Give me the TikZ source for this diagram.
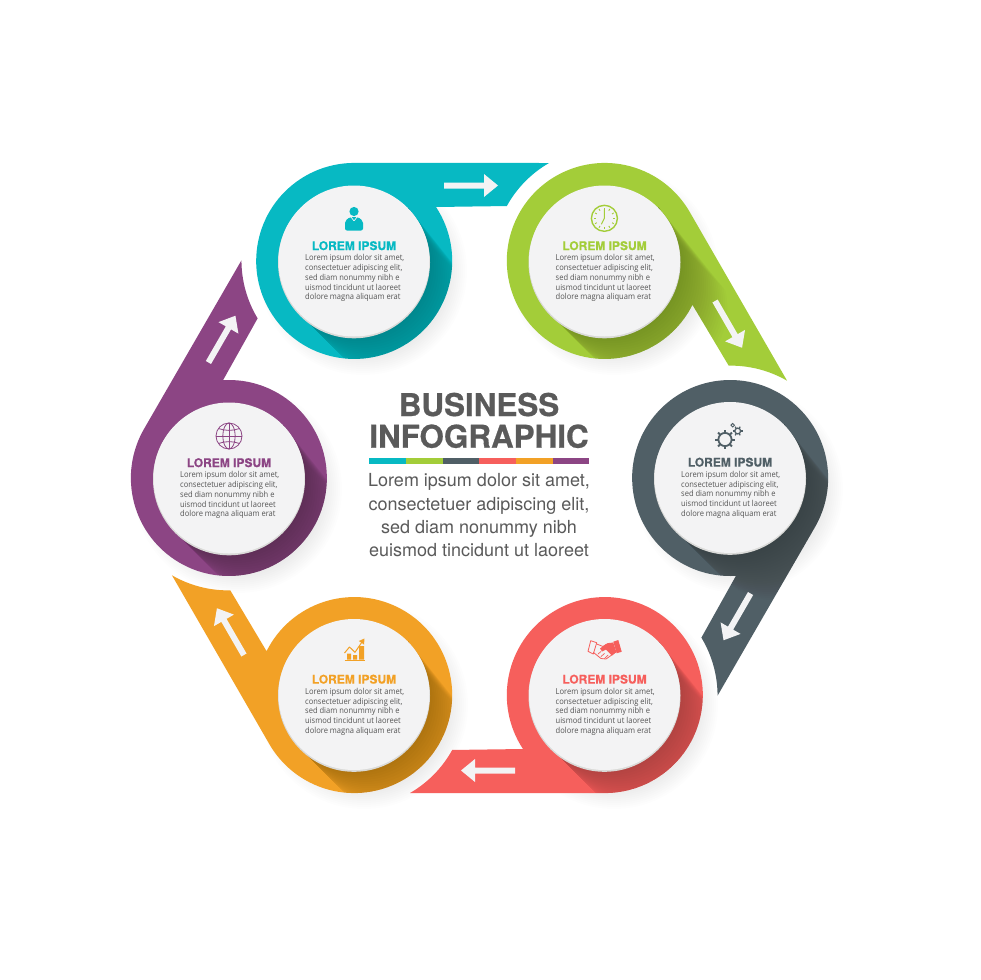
\documentclass[tikz,border=0pt]{standalone}
\usepackage{fontspec}
\setmainfont{Liberation Sans}
\newfontfamily\heros[BoldFeatures={FakeBold=0.6}]{TeX Gyre Heros}
\newfontfamily\bodyf[FakeStretch=0.92]{Open Sans}
\definecolor{cteal}{HTML}{07B9C3}
\definecolor{cgreen}{HTML}{A3CD39}
\definecolor{cgray}{HTML}{505F66}
\definecolor{cred}{HTML}{F65F5C}
\definecolor{corange}{HTML}{F2A126}
\definecolor{cpurple}{HTML}{8C4584}
\definecolor{discc}{HTML}{F3F3F4}
\definecolor{rimc}{HTML}{DADAD8}
\definecolor{bodyc}{HTML}{555555}
\definecolor{headc}{HTML}{5A5A5A}
\tikzset{
  discnode/.style={circle,fill=discc,inner sep=0pt,minimum size=151pt},
  cardtitle/.style={font=\heros\bfseries\fontsize{12}{12}\selectfont,inner sep=0pt,anchor=center},
  cardbody/.style={font=\bodyf\fontsize{8.2}{9.8}\selectfont,text=bodyc,inner sep=0pt,anchor=north west,align=left},
  headline/.style={font=\heros\bfseries\fontsize{31.4}{31.4}\selectfont,text=headc,inner sep=0pt,anchor=base},
  paraline/.style={font=\heros\fontsize{18}{18}\selectfont,text=headc,inner sep=0pt,anchor=base},
  arrowc/.style={fill=discc}
}
\newcommand\myblade{(-43.5,271) arc (33.4:-270:98) -- (69.5,315) arc (120:151.1:112.4) -- cycle}
\newcommand\mycard[4]{% cx cy colour name
  \fill[rimc] (#1,#2+0.8) circle[radius=76];
  \node[discnode] (d#4) at (#1,#2-0.5) {};
  \node[cardtitle,text=#3] (t#4) at (#1,#2-15.8) {LOREM IPSUM};
  \node[cardbody] (b#4) at (#1-49,#2-7.2) {Lorem ipsum dolor sit amet,\\consectetuer adipiscing elit,\\sed diam nonummy nibh e\\uismod tincidunt ut laoreet\\dolore magna aliquam erat};
}
\begin{document}
\begin{tikzpicture}[x=1pt,y=-1pt]
\path[use as bounding box,fill=white] (0,0) rectangle (980,980);
% soft shadows on the paper
\foreach \cx/\cy in {354/261,605/261,730/479,605/695,355/695,229/479}{
  \foreach \r in {84,86,...,104}{
    \fill[black,opacity=0.0065] (\cx+9,\cy+10) circle[radius=\r];
  }
}
% blades
\foreach \rot/\col in {0/cteal,-60/cgreen,-120/cgray,-180/cred,-240/corange,-300/cpurple}{
  \begin{scope}[shift={(479.5,478)},y=1pt,rotate=\rot]
    \fill[\col] \myblade;
    \begin{scope}
      \clip \myblade;
      \pgfmathsetmacro\sr{-45-\rot}
      \begin{scope}[shift={(-125.5,217)},rotate=\sr]
        \foreach \L in {3,6,...,66}{
          \fill[black,opacity=0.0115] (0,-76) -- (\L,-76) arc (-90:58:76) -- (0,76) -- cycle;
        }
      \end{scope}
    \end{scope}
    \fill[arrowc] (-35.5,289.5) -- (4.5,289.5) -- (4.5,281) -- (18.5,292.5) -- (4.5,304) -- (4.5,295.5) -- (-35.5,295.5) -- cycle;
  \end{scope}
}
% discs and texts
\mycard{354}{261.5}{cteal}{a}
\mycard{604.5}{261.5}{cgreen}{b}
\mycard{730}{478}{cgray}{c}
\mycard{604.5}{695}{cred}{d}
\mycard{354}{695}{corange}{e}
\mycard{229}{478.5}{cpurple}{f}
% person icon
\fill[cteal] (354,211.5) circle[radius=4.6];
\fill[cteal,rounded corners=2pt] (345,230.5) -- (345,221) -- (350,217) -- (358,217) -- (363,221) -- (363,230.5) -- cycle;
\draw[discc,line width=0.7pt] (351,217) -- (354,221) -- (357,217);
\draw[cteal,line width=1.1pt] (354,221) -- (354,228);
% clock icon
\draw[cgreen,line width=1.4pt] (604.4,218.3) circle[radius=13];
\foreach \a in {0,30,...,330}{
  \draw[cgreen,line width=0.9pt] (604.4,218.3) ++(\a:8.8) -- ++(\a:2);
}
\draw[cgreen,line width=1pt,line cap=round] (604.4,209.5) -- (604.4,218.3) -- (601.5,224);
% gears icon
\draw[cgray,line width=1.8pt] (725,439.5) circle[radius=6.6];
\foreach \a in {0,45,...,315}{
  \draw[cgray,line width=2pt] (725,439.5) ++(\a:6.8) -- ++(\a:3);
}
\draw[cgray,line width=1.3pt] (737.7,431) circle[radius=2.9];
\foreach \a in {0,60,...,300}{
  \draw[cgray,line width=1.2pt] (737.7,431) ++(\a:3) -- ++(\a:2);
}
\draw[cgray,line width=0.9pt] (732.7,425.2) circle[radius=1.8];
% handshake icon
\draw[cred,line width=0.8pt,line join=round] (590.7,640.7) -- (596.7,642.7) -- (593.3,654) -- (588,651.3) -- cycle;
\fill[cred] (613.3,641.7) -- (618.3,640) -- (621.7,651.7) -- (616.7,653.3) -- cycle;
\draw[cred,line width=0.8pt,line cap=round,line join=round] (596.7,644) -- (603,646.5) -- (608,643.5) -- (613,643);
\draw[cred,line width=0.8pt,line cap=round,line join=round] (593.5,652.5) -- (601,658.5) -- (606,659) -- (616,652);
\fill[cred] (606,644) -- (613.3,642.7) -- (616.3,651.8) -- (612,655.5) -- (606,649.5) -- (602,651.5) -- (600,648.5) -- cycle;
\draw[cred,line width=0.7pt,line cap=round] (598,654) -- (601,651.5) (601,656.5) -- (604.5,653.5) (604.5,658.5) -- (608,655);
% chart icon
\draw[corange,line width=1.2pt] (344.5,660.8) -- (365,660.8);
\fill[corange] (347,653.5) rectangle (351,659.5) (353,655) rectangle (357,659.5) (359,646) rectangle (364,659.5);
\draw[corange,line width=1pt,line join=round] (344.5,653) -- (349.5,647) -- (355,652.3) -- (362.3,641.5);
\fill[corange] (364.5,638.5) -- (364,644.5) -- (358.8,641) -- cycle;
% globe icon
\begin{scope}[cpurple,line width=0.8pt]
  \draw (229,436) circle[radius=13];
  \draw (229,436) ellipse[x radius=6.2,y radius=13];
  \draw (229,423) -- (229,449) (216,436) -- (242,436);
  \draw (218.5,428.5) .. controls (225,431) and (233,431) .. (239.5,428.5);
  \draw (218.5,443.5) .. controls (225,441) and (233,441) .. (239.5,443.5);
\end{scope}
% centre heading
\node[headline] (h1) at (479,416) {BUSINESS};
\node[headline] (h2) at (479,447.7) {INFOGRAPHIC};
\foreach \i/\c in {0/cteal,1/cgreen,2/cgray,3/cred,4/corange,5/cpurple}{
  \fill[\c] (369.3+\i*36.65,458) rectangle (369.3+\i*36.65+36.65,464);
}
\node[paraline] (p1) at (479,486.7) {Lorem ipsum dolor sit amet,};
\node[paraline] (p2) at (479,510) {consectetuer adipiscing elit,};
\node[paraline] (p3) at (479,533) {sed diam nonummy nibh};
\node[paraline] (p4) at (479,556) {euismod tincidunt ut laoreet};
\end{tikzpicture}
\end{document}
